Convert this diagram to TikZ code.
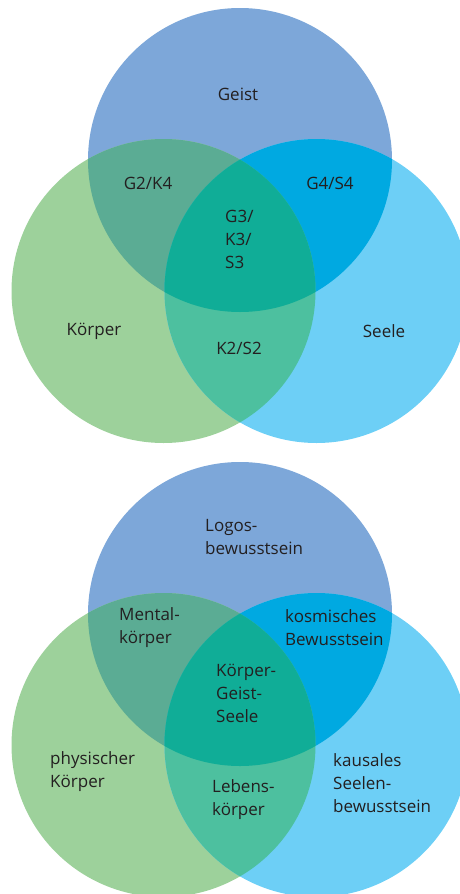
\documentclass[tikz,border=0pt]{standalone}
\usepackage{fontspec}
\setmainfont{Open Sans}
\definecolor{cG}{HTML}{7DA7D9}
\definecolor{cK}{HTML}{9DD19B}
\definecolor{cS}{HTML}{6DCFF6}
\definecolor{cGK}{HTML}{5BAC94}
\definecolor{cGS}{HTML}{00A9E1}
\definecolor{cKS}{HTML}{4DC09F}
\definecolor{cGKS}{HTML}{10AD97}
\definecolor{txt}{HTML}{231F20}
\begin{document}
\begin{tikzpicture}[x=1pt,y=-1pt,
  lbl/.style={font=\fontsize{17}{23}\selectfont, text=txt, align=left, inner sep=0pt, anchor=west}]
\useasboundingbox (0,0) rectangle (460,894);
\foreach \dy in {0,454} {
  \fill[cG] (240,160+\dy) circle [radius=152pt];
  \fill[cK] (163.5,291+\dy) circle [radius=152pt];
  \fill[cS] (316.5,291+\dy) circle [radius=152pt];
  \begin{scope}
    \clip (240,160+\dy) circle [radius=152pt];
    \fill[cGK] (163.5,291+\dy) circle [radius=152pt];
    \fill[cGS] (316.5,291+\dy) circle [radius=152pt];
  \end{scope}
  \begin{scope}
    \clip (163.5,291+\dy) circle [radius=152pt];
    \fill[cKS] (316.5,291+\dy) circle [radius=152pt];
    \clip (240,160+\dy) circle [radius=152pt];
    \fill[cGKS] (316.5,291+\dy) circle [radius=152pt];
  \end{scope}
}
% top diagram
\node[lbl, anchor=center] (geist) at (238,94) {Geist};
\node[lbl, anchor=center] (gk) at (148,183) {G2/K4};
\node[lbl, anchor=center] (gs) at (330,183) {G4/S4};
\node[lbl] (gks) at (225,239.5) {G3/\\K3/\\S3};
\node[lbl, anchor=center] (koerper) at (94,331) {Körper};
\node[lbl, anchor=center] (seele) at (384,331) {Seele};
\node[lbl, anchor=center] (ks) at (239,348) {K2/S2};
% bottom diagram
\node[lbl] (logos) at (205,537.5) {Logos-\\bewusstsein};
\node[lbl] (mental) at (119,627.5) {Mental-\\körper};
\node[lbl] (kosm) at (285,627.5) {kosmisches\\Bewusstsein};
\node[lbl] (kgs) at (216,693.5) {Körper-\\Geist-\\Seele};
\node[lbl] (phys) at (50,771.5) {physischer\\Körper};
\node[lbl] (leben) at (212,800) {Lebens-\\körper};
\node[lbl] (kausal) at (333,783) {kausales\\Seelen-\\bewusstsein};
\end{tikzpicture}
\end{document}
